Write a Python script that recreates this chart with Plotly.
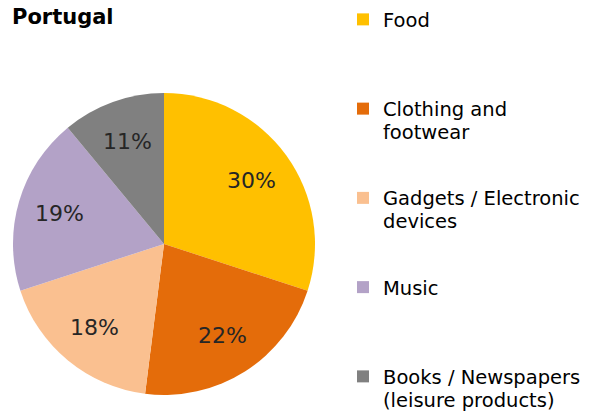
import math
import plotly.graph_objects as go

# Share of spending by category
categories = [
    "Food",
    "Clothing and<br>footwear",
    "Gadgets / Electronic<br>devices",
    "Music",
    "Books / Newspapers<br>(leisure products)",
]
shares = [30, 22, 18, 19, 11]
colors = ["#FFC000", "#E46C0A", "#FAC090", "#B3A2C7", "#808080"]

FONT = "DejaVu Sans"
W, H = 606, 416

# pie placement in pixels: left, right, top, bottom
PIE_L, PIE_R, PIE_T, PIE_B = 13, 315, 93, 395
LABEL_RADIUS = 0.72  # fraction of the radius where the percentages sit

# The legend is laid out on a fine row grid: its base font only sets the row
# pitch, while the visible words are drawn larger inside spans.
ROW = 5.75                  # px per legend row
ROW_FONT = ROW / 1.3        # plotly uses 1.3 x font size per line
ROWS_PER_TEXT_LINE = 4      # 23 px between the two lines of one entry
ROWS_PER_ENTRY = 15         # distance between consecutive entries
TEXT_SIZE = 19.5
BLANK = "\u00a0"


def legend_label(name, last):
    rows = [BLANK]  # leading row lowers the words relative to the swatch
    for k, ln in enumerate(name.split("<br>")):
        if k:
            rows += [BLANK] * (ROWS_PER_TEXT_LINE - 1)
        rows.append('<span style="font-size:%gpx">%s</span>' % (TEXT_SIZE, ln))
    if not last:
        rows += [BLANK] * (ROWS_PER_ENTRY - len(rows))
    return "<br>".join(rows)


labels = [legend_label(c, i == len(categories) - 1) for i, c in enumerate(categories)]

fig = go.Figure(
    go.Pie(
        labels=labels,
        values=shares,
        sort=False,
        direction="clockwise",
        rotation=0,
        marker=dict(colors=colors, line=dict(width=0)),
        textinfo="none",
        domain=dict(x=[PIE_L / W, PIE_R / W], y=[1 - PIE_B / H, 1 - PIE_T / H]),
        hoverinfo="skip",
    )
)

# percentage labels placed along each slice's bisector
cx, cy = (PIE_L + PIE_R) / 2, (PIE_T + PIE_B) / 2
radius = (PIE_R - PIE_L) / 2
total = sum(shares)
start = 0.0
for v in shares:
    theta = 2 * math.pi * (start + v / 2) / total
    start += v
    px = cx + LABEL_RADIUS * radius * math.sin(theta)
    py = cy - LABEL_RADIUS * radius * math.cos(theta)
    fig.add_annotation(
        x=px / W,
        y=1 - py / H,
        xref="paper",
        yref="paper",
        text="%d%%" % v,
        showarrow=False,
        xanchor="center",
        yanchor="middle",
        font=dict(family=FONT, size=22, color="#262626"),
    )

fig.update_layout(
    width=W,
    height=H,
    margin=dict(l=0, r=0, t=0, b=0),
    paper_bgcolor="white",
    plot_bgcolor="white",
    title=dict(
        text="<b>Portugal</b>",
        x=12 / W,
        xanchor="left",
        xref="paper",
        y=1 - 17 / H,
        yanchor="middle",
        yref="paper",
        font=dict(family=FONT, size=21, color="#000000"),
    ),
    legend=dict(
        x=343 / W,
        xanchor="left",
        y=1 - 10 / H,
        yanchor="top",
        valign="top",
        font=dict(family=FONT, size=ROW_FONT, color="#000000"),
        bgcolor="rgba(0,0,0,0)",
        borderwidth=0,
        traceorder="normal",
    ),
    showlegend=True,
)

fig.write_html("out.html")
